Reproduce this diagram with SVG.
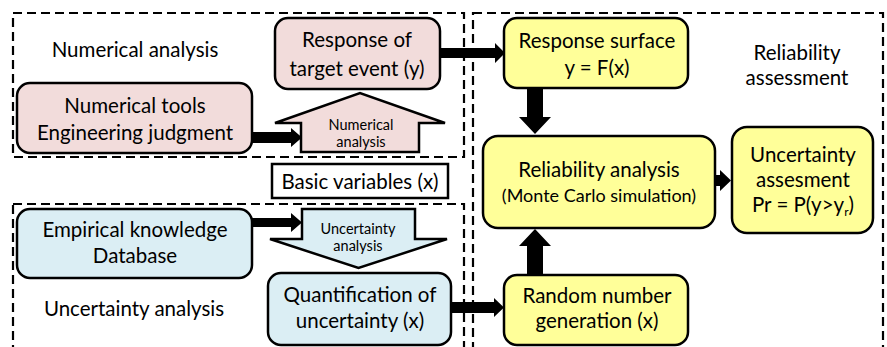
<svg xmlns="http://www.w3.org/2000/svg" width="887" height="347" viewBox="0 0 887 347">
<style>
.dash{fill:none;stroke:#000;stroke-width:2.2;stroke-dasharray:9 5}
.box{stroke:#000;stroke-width:2.5}
.pink{fill:#f2dcdb}.blue{fill:#dbeef4}.yel{fill:#ffff99}
text{font-family:Lato,"Liberation Sans",sans-serif;fill:#000;text-anchor:middle}
.t{font-size:20.5px}.s{font-size:14.5px}.m{font-size:18px}
.arr{fill:#000}
</style>
<rect width="887" height="347" fill="#fff"/>
<g id="regions">
<rect class="dash" x="13" y="13" width="451" height="144"/>
<rect class="dash" x="13" y="204" width="451" height="170"/>
<rect class="dash" x="473" y="13" width="410" height="361"/>
</g>
<g id="labels">
<text class="t" x="135" y="57">Numerical analysis</text>
<text class="t" x="134" y="316">Uncertainty analysis</text>
<text class="t" x="797" y="60">Reliability</text>
<text class="t" x="797" y="85">assessment</text>
</g>
<g id="connectors">
<path class="arr" d="M438,48 H495 V43 L505,53 L495,63 V58 H438 Z"/>
<path class="arr" d="M252,132 H291 V128 L302,137.5 L291,147 V143 H252 Z"/>
<path class="arr" d="M252,218 H291 V213 L302,222.5 L291,232 V227 H252 Z"/>
<path class="arr" d="M451,302 H494 V298 L504,307.5 L494,317 V313 H451 Z"/>
<path class="arr" d="M527,88 H543 V117 H551 L535,134 L519,117 H527 Z"/>
<path class="arr" d="M527,275 H543 V246 H551 L535,229 L519,246 H527 Z"/>
<path class="arr" d="M705,175 H720 V170 L731,180.5 L720,191 V186 H705 Z"/>
</g>
<g id="n-response-target">
<rect class="box pink" x="275" y="18" width="165" height="71" rx="13"/>
<text class="t" x="357" y="47">Response of</text>
<text class="t" x="357" y="76">target event (y)</text>
</g>
<g id="n-numerical-tools">
<rect class="box pink" x="17" y="83" width="235" height="70" rx="13"/>
<text class="t" x="135" y="113">Numerical tools</text>
<text class="t" x="135" y="140">Engineering judgment</text>
</g>
<g id="n-numerical-analysis-arrow">
<path class="box pink" d="M301,152 V123 H275 L360,93 L445,123 H419 V152 Z"/>
<text class="s" x="361" y="130">Numerical</text>
<text class="s" x="361" y="147">analysis</text>
</g>
<g id="n-basic-variables">
<rect class="box" fill="#fff" x="272" y="164" width="176" height="34"/>
<text class="t" x="360" y="189">Basic variables (x)</text>
</g>
<g id="n-empirical">
<rect class="box blue" x="17" y="209" width="235" height="69" rx="13"/>
<text class="t" x="135" y="237">Empirical knowledge</text>
<text class="t" x="135" y="263">Database</text>
</g>
<g id="n-uncertainty-analysis-arrow">
<path class="box blue" d="M302,209 V239 H270 L358.5,268 L447,239 H415 V209 Z"/>
<text class="s" x="358" y="234">Uncertainty</text>
<text class="s" x="358" y="251">analysis</text>
</g>
<g id="n-quantification">
<rect class="box blue" x="268" y="273" width="183" height="72" rx="13"/>
<text class="t" x="360" y="302">Quantification of</text>
<text class="t" x="360" y="328">uncertainty (x)</text>
</g>
<g id="n-response-surface">
<rect class="box yel" x="504" y="18" width="184" height="70" rx="13"/>
<text class="t" x="597" y="48">Response surface</text>
<text class="t" x="597" y="75">y = F(x)</text>
</g>
<g id="n-reliability-analysis">
<rect class="box yel" x="483" y="136" width="232" height="92" rx="15"/>
<text class="t" x="599" y="177">Reliability analysis</text>
<text class="m" x="599" y="202">(Monte Carlo simulation)</text>
</g>
<g id="n-uncertainty-assessment">
<rect class="box yel" x="732" y="127" width="141" height="106" rx="15"/>
<text class="t" x="803" y="162">Uncertainty</text>
<text class="t" x="803" y="187">assesment</text>
<text class="t" x="803" y="212">Pr = P(y&gt;y<tspan font-size="12" dy="4">r</tspan><tspan dy="-4">)</tspan></text>
</g>
<g id="n-random">
<rect class="box yel" x="504" y="275" width="184" height="70" rx="13"/>
<text class="t" x="597" y="303">Random number</text>
<text class="t" x="597" y="328">generation (x)</text>
</g>
</svg>
